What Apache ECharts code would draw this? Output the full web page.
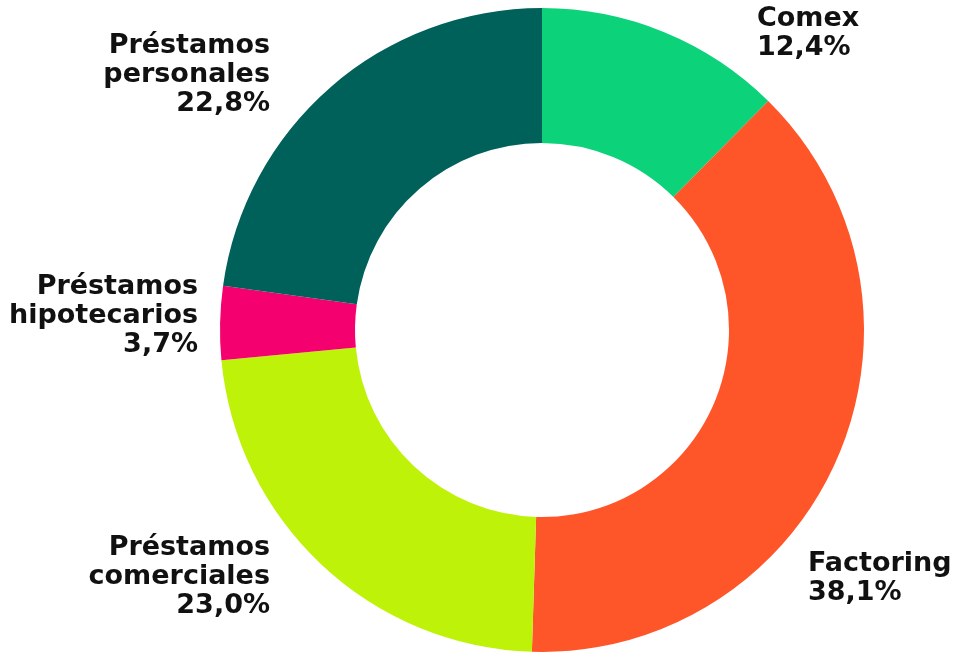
<!DOCTYPE html>
<html>
<head>
<meta charset="utf-8">
<script src="https://cdn.jsdelivr.net/npm/echarts@6/dist/echarts.min.js"></script>
<style>
  html, body { margin: 0; padding: 0; background: #fff; }
  #chart { width: 966px; height: 659px; }
</style>
</head>
<body>
<div id="chart"></div>
<script>
// datos del gráfico
var categories = ['Comex', 'Factoring', 'Préstamos\ncomerciales', 'Préstamos\nhipotecarios', 'Préstamos\npersonales'];
var values = [12.4, 38.1, 23.0, 3.7, 22.8];
var colors = ['#0cd27a', '#ff5629', '#bef208', '#f5006f', '#00615b'];

// posición de cada etiqueta (x, y centro, alineación)
var labelPos = [
  [757, 33, 'left'],
  [808, 578, 'left'],
  [270, 577, 'right'],
  [198, 316, 'right'],
  [270, 75, 'right']
];

var myChart = echarts.init(document.getElementById('chart'));
myChart.setOption({
  animation: false,
  series: [{
    type: 'pie',
    center: [542, 330],
    radius: [187, 322],
    startAngle: 90,
    clockwise: true,
    label: {
      show: true,
      position: 'outside',
      overflow: 'none',
      bleedMargin: 0,
      fontFamily: 'DejaVu Sans',
      fontWeight: 'bold',
      fontSize: 27,
      lineHeight: 29,
      color: '#111',
      formatter: function (p) {
        return p.name + '\n' + p.value.toFixed(1).replace('.', ',') + '%';
      }
    },
    labelLine: { show: false },
    labelLayout: function (params) {
      var lp = labelPos[params.dataIndex];
      return { x: lp[0], y: lp[1], align: lp[2], verticalAlign: 'middle' };
    },
    itemStyle: { borderWidth: 0 },
    data: categories.map(function (c, i) {
      return { name: c, value: values[i], itemStyle: { color: colors[i] } };
    })
  }]
});
</script>
</body>
</html>
